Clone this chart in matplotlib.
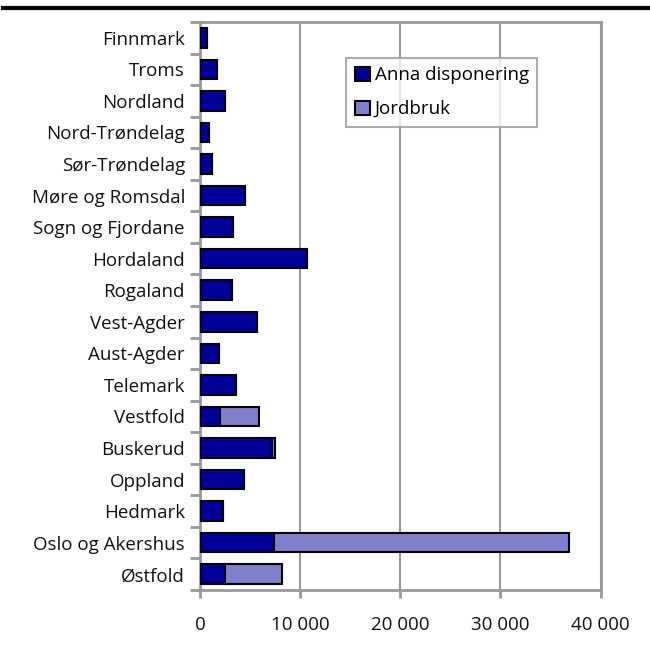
import numpy as np
import matplotlib.pyplot as plt
from matplotlib.ticker import FuncFormatter, FixedLocator

plt.rcParams['font.family'] = ['Open Sans', 'DejaVu Sans']

fylker = ["Finnmark", "Troms", "Nordland", "Nord-Trøndelag", "Sør-Trøndelag",
          "Møre og Romsdal", "Sogn og Fjordane", "Hordaland", "Rogaland",
          "Vest-Agder", "Aust-Agder", "Telemark", "Vestfold", "Buskerud",
          "Oppland", "Hedmark", "Oslo og Akershus", "Østfold"]
anna = [700, 1700, 2500, 900, 1200, 4450, 3300, 10700, 3200,
        5700, 1900, 3550, 1950, 7200, 4400, 2300, 7400, 2500]
jordbruk = [0, 0, 0, 0, 0, 0, 0, 0, 0,
            0, 0, 50, 3950, 250, 0, 0, 29400, 5700]

pos = np.arange(len(fylker))[::-1]

fig = plt.figure(figsize=(6.5, 6.48), dpi=100)
ax = fig.add_axes([0.308, 0.0895, 0.616, 0.8765])

ax.barh(pos, anna, height=0.62, color='#000099', edgecolor='black', linewidth=1.5,
        label='Anna disponering', zorder=3)
ax.barh(pos, jordbruk, left=anna, height=0.62, color='#7f7fcc', edgecolor='black',
        linewidth=1.5, label='Jordbruk', zorder=3)

ax.set_xlim(0, 40000)
ax.set_ylim(-0.5, len(fylker) - 0.5)
ax.set_xticks([0, 10000, 20000, 30000, 40000])
ax.xaxis.set_major_formatter(FuncFormatter(lambda v, p: f'{int(v):,}'.replace(',', ' ')))
ax.set_yticks(pos)
ax.set_yticklabels(fylker)
ax.yaxis.set_minor_locator(FixedLocator(np.arange(-0.5, len(fylker), 1.0)))

ax.tick_params(axis='y', which='major', length=0, pad=11, labelsize=13.5, colors='#111111')
ax.tick_params(axis='y', which='minor', length=7, width=2, color='#999999')
ax.tick_params(axis='x', which='major', length=6, width=2, color='#999999',
               pad=13, labelsize=13.5, labelcolor='#111111')

ax.grid(axis='x', color='#999999', linewidth=1.5, zorder=0)
for s in ax.spines.values():
    s.set_color('#999999')
    s.set_linewidth(2)

leg = ax.legend(loc='upper left', bbox_to_anchor=(0.365, 0.937), borderaxespad=0,
                fontsize=13.5, frameon=True, fancybox=False, edgecolor='#999999',
                handlelength=0.8, handleheight=0.8, handletextpad=0.27,
                borderpad=0.45, labelspacing=0.85)
leg.get_frame().set_linewidth(1.5)

fig.add_artist(plt.Line2D([0.005, 1.0], [0.988, 0.988], color='black', linewidth=3,
                          transform=fig.transFigure))

fig.savefig('out.png', dpi=100)
